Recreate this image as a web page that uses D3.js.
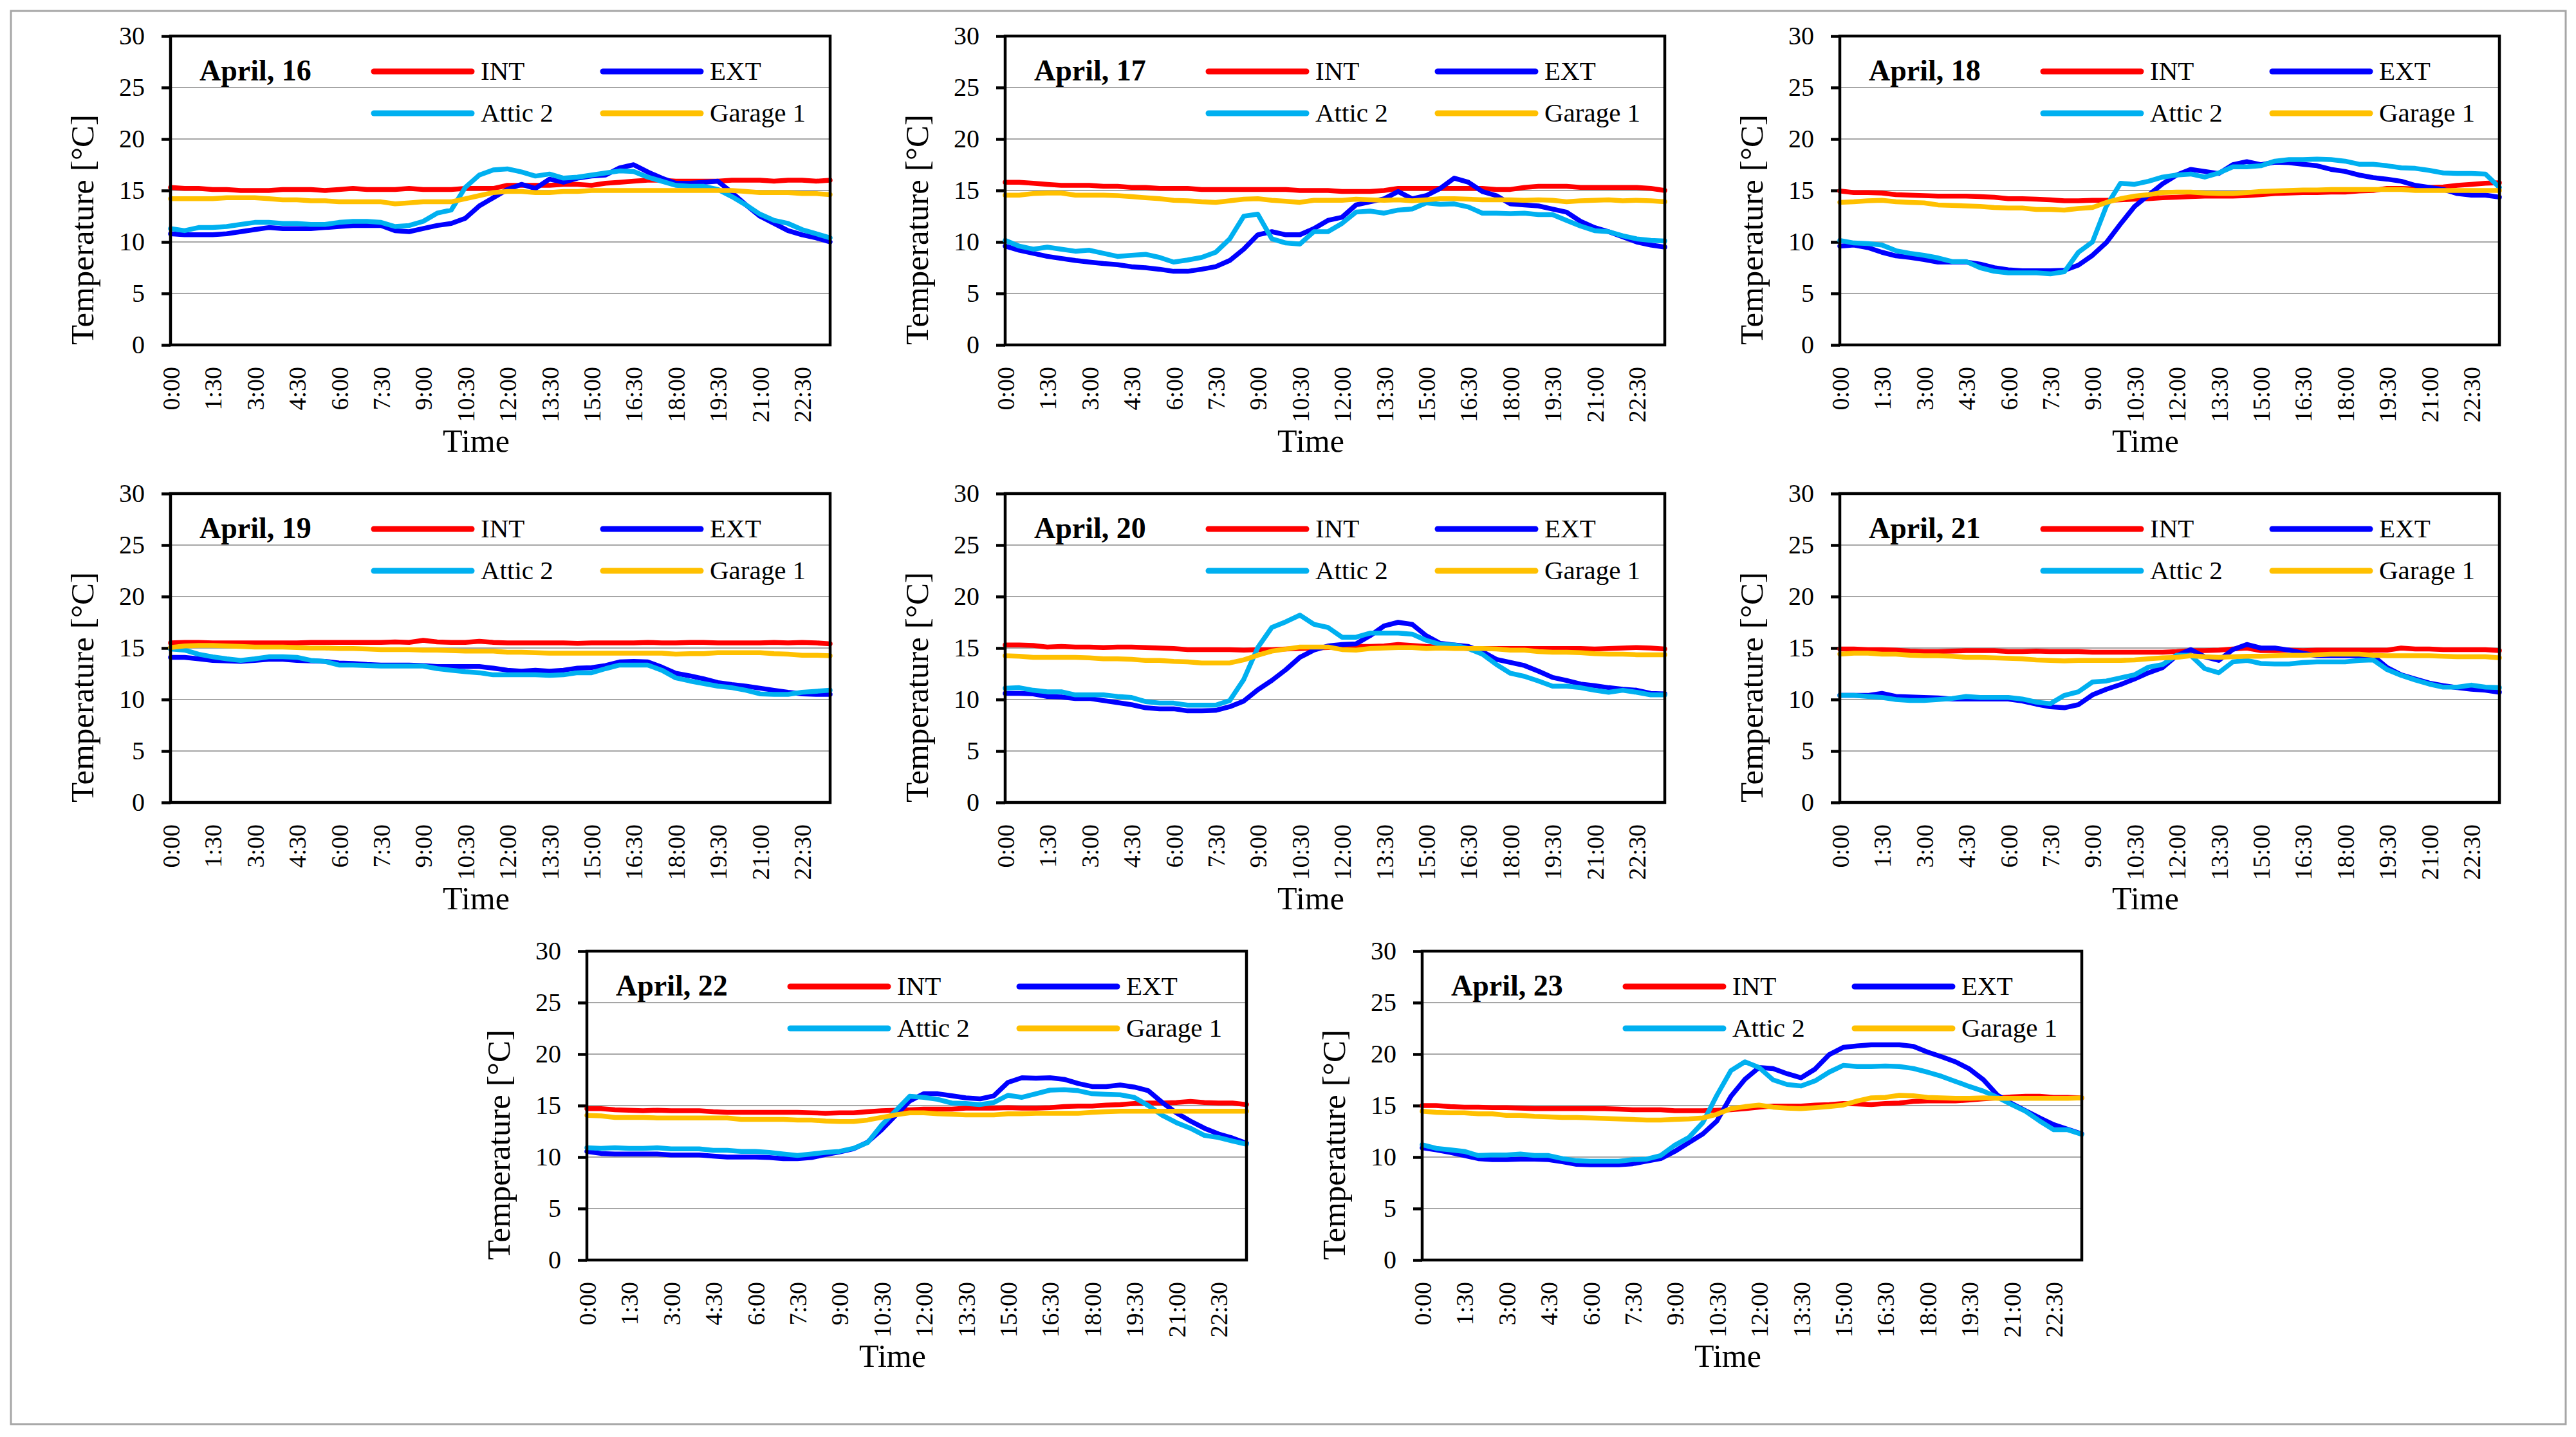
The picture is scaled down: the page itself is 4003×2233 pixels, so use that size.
<!DOCTYPE html>
<html>
<head>
<meta charset="utf-8">
<script src="https://cdn.jsdelivr.net/npm/d3@7"></script>
<style>
  body { margin: 0; background: #fff; }
  text { font-family: "Liberation Serif", "DejaVu Serif", serif; fill: #000; }
</style>
</head>
<body>
<svg id="chart" width="4003" height="2233"></svg>
<script>
// half-hourly time categories 0:00 .. 23:30
const times = d3.range(48).map(i => Math.floor(i / 2) + ":" + (i % 2 ? "30" : "00"));
const shownTimes = times.filter((t, i) => i % 3 === 0);
const days = ["April, 16", "April, 17", "April, 18", "April, 19", "April, 20", "April, 21", "April, 22", "April, 23"];
const seriesNames = ["INT", "EXT", "Attic 2", "Garage 1"];
const yTicks = [0, 5, 10, 15, 20, 25, 30];

// one row per day, 48 readings each (°C)
const INT = [
  [15.3,15.2,15.2,15.1,15.1,15.0,15.0,15.0,15.1,15.1,15.1,15.0,15.1,15.2,15.1,15.1,15.1,15.2,15.1,15.1,15.1,15.2,15.2,15.2,15.5,15.5,15.5,15.5,15.6,15.6,15.5,15.7,15.8,15.9,16.0,16.0,15.9,15.9,15.9,15.9,16.0,16.0,16.0,15.9,16.0,16.0,15.9,16.0],
  [15.8,15.8,15.7,15.6,15.5,15.5,15.5,15.4,15.4,15.3,15.3,15.2,15.2,15.2,15.1,15.1,15.1,15.1,15.1,15.1,15.1,15.0,15.0,15.0,14.9,14.9,14.9,15.0,15.2,15.2,15.2,15.2,15.2,15.2,15.2,15.1,15.1,15.3,15.4,15.4,15.4,15.3,15.3,15.3,15.3,15.3,15.2,15.0],
  [14.95,14.8,14.8,14.75,14.6,14.55,14.5,14.45,14.45,14.45,14.4,14.35,14.2,14.2,14.15,14.1,14.0,14.0,14.05,14.05,14.1,14.15,14.2,14.3,14.35,14.4,14.45,14.45,14.45,14.5,14.6,14.7,14.75,14.8,14.8,14.85,14.85,14.95,15.0,15.2,15.2,15.15,15.3,15.35,15.5,15.6,15.7,15.75],
  [15.5,15.55,15.55,15.5,15.5,15.5,15.5,15.5,15.5,15.5,15.55,15.55,15.55,15.55,15.55,15.55,15.6,15.55,15.75,15.6,15.55,15.55,15.65,15.55,15.5,15.5,15.5,15.5,15.5,15.45,15.5,15.5,15.5,15.5,15.55,15.5,15.5,15.55,15.55,15.5,15.5,15.5,15.5,15.55,15.5,15.55,15.5,15.4],
  [15.3,15.3,15.25,15.1,15.15,15.1,15.1,15.05,15.1,15.1,15.05,15.0,14.95,14.85,14.85,14.85,14.85,14.8,14.85,14.85,14.9,14.95,15.0,15.05,15.1,15.15,15.15,15.2,15.35,15.25,15.15,15.1,15.05,14.95,14.95,14.95,14.95,14.95,14.95,14.95,14.95,14.95,14.9,14.95,15.0,15.05,15.0,14.9],
  [14.9,14.9,14.85,14.85,14.8,14.7,14.65,14.65,14.7,14.75,14.75,14.75,14.65,14.65,14.7,14.65,14.65,14.65,14.6,14.6,14.6,14.6,14.6,14.6,14.65,14.75,14.75,14.8,14.9,15.0,14.75,14.75,14.8,14.75,14.8,14.8,14.8,14.8,14.8,14.8,15.0,14.9,14.9,14.85,14.85,14.85,14.85,14.75],
  [14.7,14.7,14.6,14.55,14.5,14.55,14.5,14.5,14.5,14.4,14.35,14.35,14.35,14.35,14.35,14.35,14.3,14.25,14.3,14.3,14.4,14.5,14.55,14.6,14.65,14.65,14.65,14.75,14.75,14.75,14.8,14.75,14.75,14.8,14.9,14.95,14.95,15.05,15.1,15.2,15.25,15.25,15.3,15.4,15.3,15.25,15.25,15.1],
  [15.0,15.0,14.9,14.85,14.85,14.8,14.8,14.75,14.7,14.7,14.7,14.7,14.7,14.7,14.65,14.6,14.6,14.6,14.5,14.5,14.5,14.55,14.6,14.7,14.85,14.95,14.95,14.95,15.05,15.1,15.2,15.15,15.1,15.2,15.25,15.4,15.45,15.45,15.45,15.55,15.65,15.75,15.85,15.9,15.9,15.8,15.8,15.75]
];
const EXT = [
  [10.8,10.7,10.7,10.7,10.8,11.0,11.2,11.4,11.3,11.3,11.3,11.4,11.5,11.6,11.6,11.6,11.1,11.0,11.3,11.6,11.8,12.3,13.5,14.3,15.1,15.6,15.2,16.1,15.8,16.2,16.4,16.5,17.2,17.5,16.8,16.2,15.7,15.7,15.8,15.9,14.8,13.6,12.5,11.8,11.1,10.7,10.4,10.0],
  [9.6,9.2,8.9,8.6,8.4,8.2,8.05,7.9,7.8,7.6,7.5,7.35,7.15,7.15,7.35,7.6,8.2,9.3,10.7,11.0,10.7,10.7,11.3,12.1,12.4,13.6,13.9,14.2,14.9,14.2,14.5,15.2,16.2,15.8,14.9,14.5,13.7,13.6,13.5,13.2,12.9,12.0,11.4,11.0,10.5,10.0,9.7,9.5],
  [9.6,9.7,9.45,9.0,8.65,8.5,8.3,8.05,8.05,8.05,7.85,7.5,7.3,7.2,7.2,7.2,7.25,7.75,8.7,9.95,11.75,13.45,14.55,15.65,16.5,17.05,16.85,16.65,17.5,17.8,17.5,17.75,17.7,17.55,17.4,17.05,16.85,16.5,16.25,16.1,15.9,15.5,15.3,15.1,14.7,14.55,14.55,14.35],
  [14.1,14.1,13.95,13.8,13.75,13.7,13.8,13.9,13.9,13.8,13.75,13.7,13.55,13.5,13.4,13.35,13.35,13.35,13.3,13.2,13.2,13.2,13.2,13.05,12.85,12.75,12.85,12.75,12.85,13.05,13.1,13.3,13.65,13.7,13.65,13.15,12.55,12.3,12.0,11.65,11.45,11.3,11.1,10.9,10.7,10.55,10.5,10.5],
  [10.6,10.6,10.55,10.3,10.25,10.1,10.1,9.9,9.7,9.5,9.2,9.1,9.1,8.9,8.9,8.95,9.3,9.85,10.95,11.85,12.9,14.1,14.8,15.2,15.35,15.4,16.2,17.15,17.5,17.3,16.2,15.45,15.3,15.15,14.65,13.9,13.6,13.3,12.75,12.15,11.85,11.5,11.35,11.15,11.0,10.9,10.6,10.55],
  [10.4,10.4,10.4,10.6,10.3,10.25,10.2,10.15,10.05,10.05,10.05,10.05,10.05,9.85,9.55,9.3,9.2,9.5,10.45,11.0,11.45,12.0,12.6,13.1,14.25,14.85,14.15,13.8,14.85,15.35,15.0,15.0,14.8,14.5,14.25,14.25,14.25,14.25,14.25,13.1,12.4,12.0,11.6,11.35,11.15,11.0,10.9,10.7],
  [10.55,10.35,10.3,10.3,10.3,10.3,10.2,10.2,10.2,10.1,10.0,10.0,10.0,9.95,9.85,9.85,9.95,10.25,10.5,10.8,11.45,12.65,14.05,15.45,16.15,16.15,15.95,15.75,15.65,15.95,17.25,17.7,17.65,17.7,17.55,17.15,16.85,16.85,17.0,16.8,16.45,15.3,14.3,13.5,12.8,12.25,11.85,11.35],
  [10.9,10.7,10.45,10.15,9.85,9.75,9.75,9.8,9.8,9.75,9.55,9.3,9.25,9.25,9.25,9.35,9.6,9.85,10.55,11.4,12.25,13.5,15.9,17.55,18.7,18.6,18.1,17.7,18.55,19.95,20.65,20.8,20.9,20.9,20.9,20.75,20.2,19.75,19.25,18.55,17.5,16.0,15.2,14.5,13.8,13.15,12.7,12.25]
];
const ATTIC = [
  [11.3,11.1,11.4,11.4,11.5,11.7,11.9,11.9,11.8,11.8,11.7,11.7,11.9,12.0,12.0,11.9,11.5,11.6,12.0,12.8,13.1,15.3,16.5,17.0,17.1,16.8,16.4,16.6,16.2,16.3,16.5,16.7,16.9,16.85,16.3,15.9,15.5,15.4,15.4,15.1,14.4,13.6,12.7,12.1,11.8,11.2,10.8,10.4],
  [10.15,9.6,9.3,9.5,9.3,9.1,9.2,8.9,8.6,8.7,8.8,8.5,8.05,8.25,8.5,9.0,10.3,12.5,12.7,10.3,9.9,9.8,11.0,11.0,11.8,12.9,13.0,12.8,13.1,13.2,13.8,13.65,13.7,13.4,12.8,12.8,12.75,12.8,12.65,12.65,12.1,11.55,11.1,11.0,10.6,10.3,10.15,10.1],
  [10.15,9.9,9.85,9.7,9.15,8.9,8.7,8.45,8.1,8.1,7.5,7.15,7.0,7.0,7.0,6.9,7.1,9.0,10.0,13.5,15.7,15.6,15.9,16.3,16.5,16.6,16.3,16.7,17.3,17.3,17.4,17.85,18.0,18.0,18.05,18.0,17.85,17.55,17.55,17.4,17.2,17.15,16.95,16.7,16.65,16.65,16.6,15.3],
  [14.9,14.8,14.4,14.15,13.95,13.8,13.95,14.15,14.15,14.1,13.8,13.7,13.35,13.35,13.3,13.25,13.25,13.25,13.25,13.0,12.85,12.7,12.6,12.4,12.4,12.4,12.4,12.35,12.4,12.6,12.6,13.0,13.35,13.35,13.35,12.85,12.1,11.8,11.55,11.3,11.15,10.9,10.55,10.5,10.5,10.7,10.8,10.9],
  [11.1,11.15,10.9,10.75,10.75,10.45,10.45,10.45,10.3,10.2,9.8,9.65,9.65,9.45,9.45,9.45,9.9,11.95,15.05,17.0,17.55,18.2,17.3,17.0,16.05,16.05,16.45,16.45,16.45,16.35,15.75,15.35,15.3,14.95,14.4,13.4,12.55,12.25,11.8,11.3,11.3,11.15,10.9,10.7,10.9,10.7,10.45,10.45],
  [10.4,10.4,10.3,10.2,10.0,9.9,9.9,10.0,10.1,10.3,10.2,10.2,10.2,10.05,9.75,9.6,10.4,10.75,11.7,11.8,12.1,12.4,13.15,13.4,14.3,14.3,13.0,12.6,13.65,13.8,13.5,13.45,13.45,13.6,13.65,13.65,13.65,13.8,13.85,12.9,12.35,11.9,11.5,11.2,11.2,11.4,11.2,11.15],
  [10.9,10.85,10.9,10.85,10.85,10.9,10.8,10.8,10.8,10.65,10.65,10.55,10.55,10.45,10.3,10.15,10.3,10.45,10.55,10.85,11.4,13.1,14.5,15.9,15.8,15.6,15.25,15.2,15.1,15.3,16.0,15.8,16.15,16.5,16.55,16.45,16.15,16.1,16.05,15.8,15.0,14.05,13.35,12.8,12.1,11.9,11.55,11.25],
  [11.2,10.85,10.7,10.55,10.15,10.2,10.2,10.3,10.15,10.15,9.85,9.65,9.6,9.6,9.6,9.75,9.8,10.15,11.15,11.9,13.35,16.0,18.4,19.25,18.7,17.5,17.05,16.9,17.4,18.25,18.9,18.8,18.8,18.85,18.8,18.6,18.25,17.85,17.35,16.85,16.4,15.8,15.1,14.45,13.5,12.65,12.65,12.2]
];
const GARAGE = [
  [14.2,14.2,14.2,14.2,14.3,14.3,14.3,14.2,14.1,14.1,14.0,14.0,13.9,13.9,13.9,13.9,13.7,13.8,13.9,13.9,13.9,14.2,14.5,14.8,14.9,14.9,14.8,14.8,14.9,14.9,15.0,15.0,15.0,15.0,15.0,15.0,15.0,15.0,15.0,15.0,15.0,14.9,14.8,14.8,14.8,14.7,14.7,14.6],
  [14.55,14.55,14.7,14.75,14.75,14.55,14.55,14.55,14.5,14.4,14.3,14.2,14.05,14.0,13.9,13.85,14.0,14.15,14.2,14.05,13.95,13.85,14.05,14.05,14.05,14.15,14.1,14.05,14.1,14.0,14.1,14.2,14.2,14.15,14.1,14.1,14.1,14.05,14.1,14.05,13.9,14.0,14.05,14.1,14.0,14.05,14.0,13.9],
  [13.85,13.9,14.0,14.05,13.9,13.85,13.8,13.6,13.55,13.5,13.45,13.35,13.3,13.3,13.15,13.15,13.1,13.25,13.35,13.85,14.2,14.45,14.6,14.8,14.85,14.85,14.75,14.7,14.7,14.8,14.9,14.95,15.0,15.05,15.05,15.1,15.1,15.1,15.1,15.1,15.1,15.0,15.0,15.0,15.0,15.0,15.0,15.0],
  [15.05,15.2,15.25,15.25,15.2,15.15,15.1,15.1,15.1,15.05,15.0,15.0,14.95,14.95,14.9,14.85,14.85,14.85,14.8,14.8,14.75,14.7,14.7,14.7,14.6,14.6,14.55,14.5,14.5,14.5,14.5,14.5,14.5,14.5,14.5,14.5,14.4,14.45,14.45,14.55,14.55,14.55,14.55,14.45,14.4,14.3,14.3,14.25],
  [14.25,14.2,14.1,14.1,14.1,14.1,14.05,13.95,13.95,13.9,13.8,13.8,13.7,13.65,13.55,13.55,13.55,13.85,14.3,14.7,14.9,15.1,15.1,15.1,14.85,14.8,14.95,15.0,15.05,15.05,14.95,15.0,14.95,14.95,14.95,14.9,14.8,14.8,14.65,14.6,14.6,14.55,14.45,14.4,14.4,14.35,14.35,14.35],
  [14.4,14.5,14.5,14.4,14.4,14.3,14.25,14.25,14.2,14.1,14.1,14.05,14.0,13.95,13.85,13.8,13.75,13.8,13.8,13.8,13.8,13.85,13.95,14.05,14.1,14.25,14.15,14.1,14.15,14.2,14.2,14.25,14.3,14.3,14.35,14.4,14.4,14.4,14.3,14.25,14.25,14.25,14.25,14.2,14.15,14.15,14.15,14.05],
  [14.05,14.0,13.85,13.85,13.85,13.8,13.8,13.8,13.8,13.8,13.8,13.65,13.65,13.65,13.65,13.6,13.6,13.5,13.45,13.45,13.6,13.85,14.1,14.3,14.3,14.2,14.15,14.1,14.1,14.1,14.2,14.2,14.25,14.25,14.25,14.25,14.35,14.4,14.45,14.45,14.45,14.45,14.45,14.45,14.45,14.45,14.45,14.45],
  [14.45,14.35,14.3,14.3,14.2,14.2,14.05,14.05,13.95,13.9,13.85,13.85,13.8,13.75,13.7,13.65,13.6,13.6,13.65,13.7,13.8,14.15,14.7,14.9,15.05,14.85,14.75,14.7,14.8,14.9,15.05,15.45,15.75,15.8,16.0,15.95,15.8,15.75,15.7,15.7,15.75,15.7,15.7,15.7,15.7,15.7,15.7,15.75]
];

const colors = ["#ff0000", "#0000ff", "#00b0f0", "#ffc000"];
const allSeries = [INT, EXT, ATTIC, GARAGE];

// plot-area placement of each panel
const layout = [
  [265, 56], [1562, 56], [2859, 56],
  [265, 767], [1562, 767], [2859, 767],
  [912, 1478], [2210, 1478]
];
const W = 1025, H = 480;

const svg = d3.select("#chart");
svg.append("rect").attr("width", 4003).attr("height", 2233).attr("fill", "#fff");
svg.append("rect")
  .attr("x", 17).attr("y", 17).attr("width", 3970).attr("height", 2196)
  .attr("fill", "none").attr("stroke", "#a6a6a6").attr("stroke-width", 3);

const x = d3.scalePoint().domain(times).range([0, W]);
const y = d3.scaleLinear().domain([0, 30]).range([H, 0]);
const line = d3.line().x((d, i) => x(times[i])).y(d => y(d));

days.forEach((day, k) => {
  const g = svg.append("g").attr("transform", `translate(${layout[k][0]},${layout[k][1]})`);

  // gridlines
  g.append("g").selectAll("line")
    .data(yTicks.filter(t => t > 0 && t < 30))
    .join("line")
      .attr("x1", 0).attr("x2", W)
      .attr("y1", d => y(d)).attr("y2", d => y(d))
      .attr("stroke", "#a6a6a6").attr("stroke-width", 2.2);

  // y axis
  const ya = g.append("g").call(d3.axisLeft(y).tickValues(yTicks).tickSize(14).tickPadding(26));
  ya.select(".domain").remove();
  ya.selectAll("line").attr("stroke", "#000").attr("stroke-width", 4.5);
  ya.selectAll("text").attr("font-size", 40).attr("font-family", "Liberation Serif");

  // x axis labels
  const xa = g.append("g").attr("transform", `translate(0,${H})`)
    .call(d3.axisBottom(x).tickValues(shownTimes).tickSize(0));
  xa.select(".domain").remove();
  xa.selectAll("text")
    .attr("font-size", 38).attr("font-family", "Liberation Serif")
    .attr("transform", "rotate(-90)")
    .attr("x", -34).attr("y", 0).attr("dy", "0.35em")
    .attr("text-anchor", "end");

  // series
  allSeries.forEach((s, j) => {
    g.append("path").datum(s[k])
      .attr("d", line)
      .attr("fill", "none").attr("stroke", colors[j])
      .attr("stroke-width", 7.5)
      .attr("stroke-linejoin", "round").attr("stroke-linecap", "round");
  });

  // frame
  g.append("rect").attr("width", W).attr("height", H)
    .attr("fill", "none").attr("stroke", "#000").attr("stroke-width", 4.5);

  // date label and legend
  g.append("text").attr("x", 45).attr("y", 69)
    .attr("font-size", 46).attr("font-weight", "bold").text(day);
  seriesNames.forEach((name, j) => {
    const lx = j % 2 === 0 ? 316 : 672;
    const ly = j < 2 ? 55 : 120;
    g.append("line").attr("x1", lx).attr("x2", lx + 152).attr("y1", ly).attr("y2", ly)
      .attr("stroke", colors[j]).attr("stroke-width", 9).attr("stroke-linecap", "round");
    g.append("text").attr("x", lx + 166).attr("y", ly + 13)
      .attr("font-size", 41).text(name);
  });

  // axis titles
  g.append("text").attr("x", 475).attr("y", H + 166)
    .attr("text-anchor", "middle").attr("font-size", 50).text("Time");
  g.append("text")
    .attr("transform", `translate(-138,${301}) rotate(-90)`)
    .attr("text-anchor", "middle").attr("dy", "0.35em")
    .attr("font-size", 51).text("Temperature [°C]");
});
</script>
</body>
</html>
